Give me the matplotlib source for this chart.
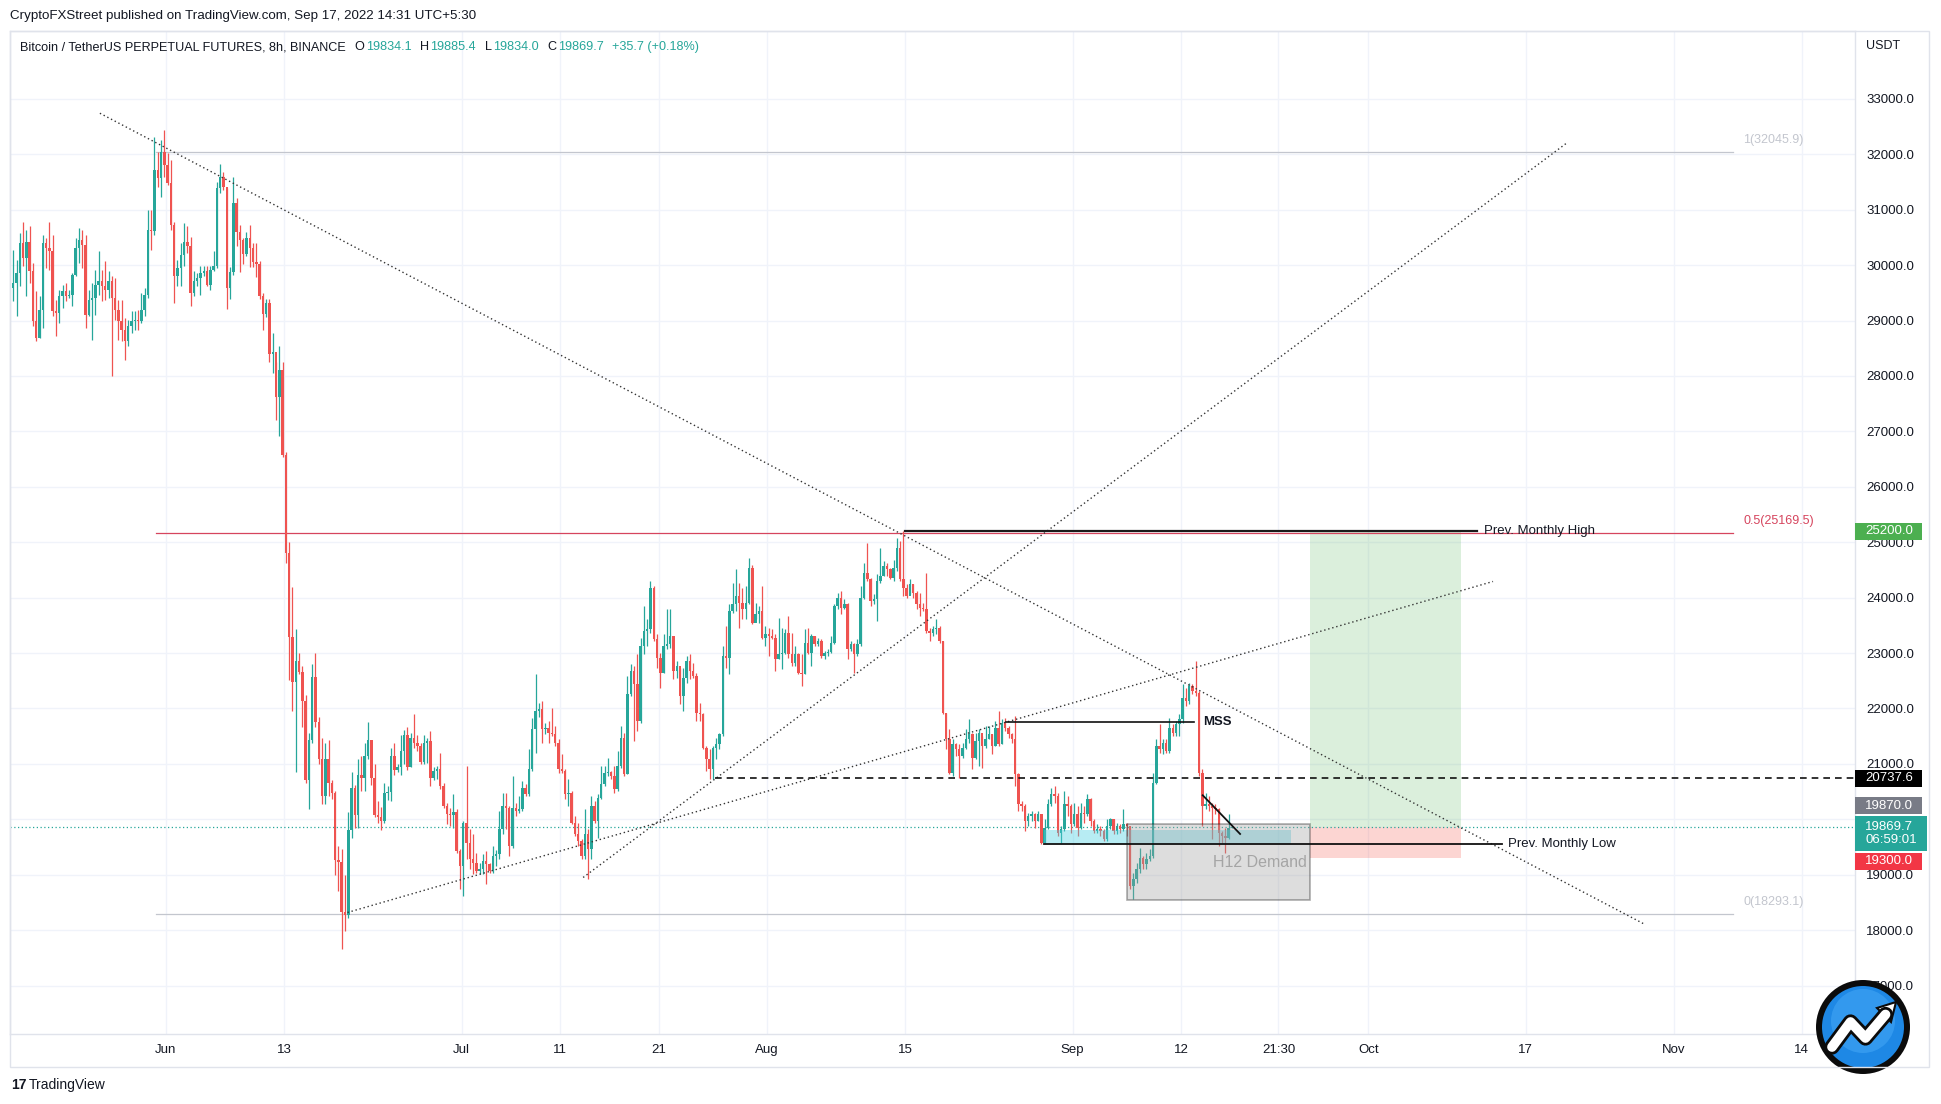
import matplotlib
matplotlib.use("Agg")
import matplotlib.pyplot as plt
import matplotlib.dates as mdates
import matplotlib.patheffects as pe
from matplotlib.patches import Rectangle, Circle, Polygon
from matplotlib.transforms import blended_transform_factory
import numpy as np
import pandas as pd

plt.rcParams['font.family'] = ['Liberation Sans', 'DejaVu Sans']

# ---------------- data (BTCUSDT perp, 8h candles) ----------------
first_candle_time = "2022-05-16 12:00"
first_open = 29586

closes = [
    # May 16 - Jun 6
    29676, 29856, 30397, 30127, 30427, 29886, 28985, 28685, 29195, 30397,
    30307, 30247, 29165, 29135, 29436, 29526, 29436, 29466, 29826, 30307,
    30457, 30367, 29105, 29376, 29406, 29646, 29706, 29616, 29556, 29706,
    29406, 29195, 28985, 28835, 28625, 28895, 28985, 29015, 28985, 29195,
    29466, 30638, 30608, 31720, 31569, 32050, 31810, 31479, 30728, 29796,
    29947, 30187, 30427, 30337, 29496, 29706, 29766, 29856, 29886, 29646,
    29917, 29977, 31400,
    # Jun 6 - Jun 27
    31593, 31402, 29587, 29874, 31115, 30590, 30446, 30208, 30494, 30303,
    30065, 30017, 29444, 29110, 29320, 28393, 28441, 27629, 28107, 26579,
    24812, 23284, 22472, 22854, 22663, 22138, 20706, 21422, 22567, 21756,
    21087, 20419, 21087, 20658, 20467, 19273, 19225, 18318, 18270, 19798,
    20562, 20085, 20801, 20754, 21135, 21422, 20754, 20085, 20037, 19961,
    20467, 20500, 21135, 20897, 20950, 21231, 21517, 20944, 21470, 21374,
    21326, 21040, 21374,
    # Jun 27 - Jul 18
    21413, 20751, 20872, 20902, 20601, 20241, 20090, 20072, 20132, 19429,
    19159, 19940, 19580, 19279, 19219, 19069, 19111, 19249, 19189, 19069,
    19339, 19369, 19820, 20241, 20211, 19520, 20211, 20150, 20193, 20571,
    20451, 20902, 21623, 21953, 21983, 21623, 21653, 21563, 21533, 21382,
    20902, 20872, 20451, 20481, 19940, 19730, 19610, 19339, 19730, 19459,
    20241, 19970, 20391, 20631, 20842, 20854, 20781, 20541, 20962, 21473,
    20812, 22254,
    # Jul 18 - Aug 8
    22675, 22435, 21773, 23126, 23396, 23426, 24178, 23246, 22915, 22645,
    23126, 23156, 23306, 22675, 22765, 22224, 22555, 22855, 22675, 22585,
    21924, 21894, 21293, 21082, 20902, 21293, 21353, 21533, 22946, 22915,
    23757, 23877, 24027, 23907, 23787, 23907, 24538, 23546, 23697, 23757,
    23276, 23336, 23306, 23276, 22885, 22975, 23005, 23366, 22975, 22825,
    22975, 22645, 22615, 23186, 23005, 23306, 23156, 23216, 22945, 23005,
    23017, 23186,
    # Aug 8 - Aug 29
    23847, 23997, 23817, 23877, 23066, 23156, 22975, 23156, 23997, 24448,
    24328, 23937, 23967, 24298, 24388, 24568, 24508, 24358, 24538, 24899,
    24328, 24178, 24028, 24238, 24088, 23877, 23817, 23787, 23396, 23366,
    23426, 23456, 23216, 21924, 21443, 20842, 21353, 21263, 21143, 21293,
    21443, 21533, 21113, 21413, 21563, 21323, 21443, 21533, 21323, 21653,
    21353, 21744, 21653, 21533, 21443, 20812, 20271, 20241, 19971, 20061,
    20091, 19971,
    # Aug 29 - Sep 17
    20091, 19580, 19850, 20271, 20451, 20421, 19760, 19820, 20271, 20241,
    19910, 20091, 19850, 20121, 20091, 20361, 19971, 19790, 19820, 19790,
    19640, 19880, 20001, 19790, 19880, 19820, 19910, 19880, 18799, 18919,
    19099, 19310, 19190, 19280, 19340, 20662, 21323, 21263, 21383, 21233,
    21654, 21563, 21714, 21804, 22194, 22134, 22405, 22315, 22285, 20842,
    20241, 20271, 20241, 20211, 20181, 19760, 19700, 19670, 19834.1, 19869.7,
]

highs = [
    30277, 30097, 30578, 30788, 30638, 30698, 30037, 29526, 29436, 30548,
    30487, 30788, 30548, 29376, 29556, 29646, 29676, 29556, 29856, 30487,
    30668, 30638, 30548, 29556, 29676, 29917, 30247, 29917, 30067, 29886,
    29796, 29766, 29376, 29376, 29045, 29015, 29165, 29165, 29195, 29496,
    29586, 30998, 30998, 32320, 32050, 32260, 32440, 32020, 31900, 30788,
    30097, 30397, 30758, 30698, 30517, 29886, 29856, 29977, 29977, 29977,
    29977, 30247, 31500,
    31831, 31688, 31400, 29969, 31593, 31210, 30733, 30494, 30590, 30733,
    30399, 30399, 30084, 29492, 29396, 29396, 28775, 28250, 28536, 28250,
    26626, 25003, 24191, 23427, 22997, 22759, 22234, 21565, 22807, 22997,
    21852, 21470, 21374, 21422, 20706, 20515, 19512, 19464, 18987, 20133,
    20849, 20610, 21087, 21135, 21374, 21756, 21422, 20992, 20324, 20228,
    20658, 20600, 21278, 21374, 21000, 21517, 21613, 21661, 21565, 21900,
    21517, 21374, 21517,
    21473, 21593, 20950, 20962, 21202, 20650, 20300, 20211, 20451, 20181,
    19459, 19970, 20962, 19820, 19730, 19399, 19219, 19369, 19429, 19219,
    19520, 19450, 20150, 20481, 20481, 20241, 20781, 20301, 20421, 20691,
    20631, 21262, 21833, 22615, 22100, 22134, 21743, 21773, 22014, 21683,
    21443, 21172, 20902, 20721, 20511, 20060, 19940, 19640, 20181, 19820,
    20421, 20331, 20451, 20962, 20962, 21112, 20872, 20962, 21232, 21683,
    21563, 22585,
    22795, 22765, 22975, 23276, 23847, 23606, 24298, 24208, 23336, 23005,
    23336, 23787, 23787, 23306, 22855, 22735, 22735, 22945, 22975, 22825,
    22645, 22104, 21924, 21323, 21263, 21323, 21473, 21563, 23126, 23486,
    23877, 24268, 24508, 24268, 24178, 24208, 24718, 24598, 23907, 23847,
    24208, 23486, 23456, 23426, 23336, 23637, 23456, 23426, 23667, 23366,
    23126, 23005, 22975, 23426, 23456, 23336, 23306, 23276, 23246, 23036,
    23066, 23306,
    23877, 24088, 24118, 23967, 23907, 23216, 23186, 23246, 24208, 24628,
    24989, 24358, 24058, 24418, 24899, 24658, 24628, 24538, 24688, 25079,
    25019, 25199, 24238, 24328, 24238, 24118, 24088, 23907, 24448, 23456,
    23486, 23607, 23486, 23216, 21924, 21623, 21443, 21383, 21353, 21383,
    21623, 21804, 21563, 21563, 21623, 21503, 21684, 21684, 21533, 21774,
    21954, 21804, 21834, 21684, 21563, 21864, 20842, 20331, 20271, 20121,
    20151, 20121,
    20151, 20091, 20001, 20361, 20571, 20601, 20481, 19880, 20511, 20421,
    20271, 20301, 20241, 20301, 20241, 20451, 20391, 20001, 19910, 19880,
    19820, 20001, 20031, 20001, 19940, 19910, 20181, 19940, 19850, 19039,
    19219, 19490, 19340, 19400, 19460, 20842, 21443, 21714, 21443, 21443,
    21834, 21714, 21774, 21894, 22435, 22375, 22465, 22435, 22855, 22315,
    20902, 20481, 20421, 20301, 20271, 20211, 19790, 19850, 20091, 19885.4,
]

lows = [
    29346, 29075, 29616, 29977, 29436, 29676, 28895, 28625, 28685, 28865,
    29947, 29917, 29075, 28715, 28955, 29225, 29346, 29406, 29256, 29796,
    30037, 29947, 28865, 29075, 28655, 29105, 29466, 29346, 29376, 29406,
    27993, 29015, 28655, 28625, 28294, 28534, 28775, 28835, 28835, 28955,
    29075, 29406, 30277, 30548, 31419, 31239, 31599, 31449, 30638, 29316,
    29616, 29616, 29977, 30217, 29256, 29436, 29616, 29466, 29796, 29616,
    29556, 29886, 29947,
    31300, 31354, 29205, 29396, 29826, 30351, 29874, 30017, 30160, 29969,
    29969, 29778, 29396, 28823, 29062, 28250, 28059, 27200, 26913, 26531,
    24621, 22520, 21947, 20849, 22615, 21661, 20658, 20180, 21374, 21661,
    20992, 20276, 20276, 20419, 20371, 18987, 18700, 17650, 17984, 18222,
    19655, 19846, 19846, 20515, 20515, 21087, 20610, 20037, 19941, 19798,
    19941, 20350, 20324, 20801, 20850, 20801, 20992, 20897, 20944, 21278,
    21231, 20992, 20992,
    21022, 20601, 20700, 20721, 20541, 20211, 19910, 19880, 19850, 19399,
    18738, 18618, 19279, 19099, 19009, 19039, 19009, 19009, 18828, 19039,
    19039, 19150, 19279, 19730, 19820, 19339, 19489, 20060, 20120, 20150,
    20421, 20421, 20872, 21202, 21850, 21382, 21533, 21382, 21503, 21322,
    20842, 20842, 20361, 20241, 19910, 19700, 19520, 19279, 19279, 18918,
    19279, 19940, 19670, 20361, 20601, 20781, 20721, 20481, 20511, 20932,
    20781, 20812,
    22224, 21413, 21593, 21743, 22975, 23126, 23366, 23216, 22735, 22374,
    22645, 23066, 23096, 22525, 22555, 22074, 21954, 22465, 22525, 22555,
    21773, 21773, 21263, 20872, 20722, 20722, 21082, 21263, 21503, 22735,
    22615, 23727, 23757, 23456, 23606, 23606, 23877, 23516, 23606, 23546,
    23246, 23126, 22945, 23246, 22675, 22885, 22705, 22975, 22915, 22765,
    22765, 22615, 22405, 22615, 22975, 22765, 23126, 23126, 22915, 22885,
    22945, 23005,
    23156, 23787, 23697, 23787, 22885, 23036, 22645, 22945, 23126, 23967,
    24298, 23847, 23877, 23577, 24268, 24388, 24388, 24328, 24298, 24478,
    24298, 24028, 23997, 24058, 23997, 23787, 23667, 23757, 23366, 23216,
    23306, 23336, 23186, 21894, 21263, 20812, 20782, 21143, 20752, 21113,
    21263, 21383, 20902, 21083, 20962, 20932, 21293, 21443, 21173, 21323,
    21323, 21353, 21593, 21473, 21383, 20602, 20151, 20151, 19790, 19880,
    19971, 19850,
    19971, 19550, 19580, 19820, 20241, 20301, 19700, 19580, 19790, 20061,
    19760, 19880, 19700, 19820, 19940, 20061, 19880, 19760, 19760, 19700,
    19610, 19610, 19820, 19730, 19730, 19760, 19790, 19700, 18739, 18558,
    18859, 19039, 19099, 19099, 19250, 19310, 20632, 21203, 21173, 21203,
    21203, 21503, 21503, 21503, 21744, 22044, 22074, 22255, 22225, 20782,
    19880, 20181, 20151, 19640, 20091, 19520, 19580, 19400, 19640, 19834.0,
]

# axis ticks
tick_times = ["2022-06-01", "2022-06-13", "2022-07-01", "2022-07-11", "2022-07-21",
              "2022-08-01", "2022-08-15", "2022-09-01", "2022-09-12", "2022-09-21 21:30",
              "2022-10-01", "2022-10-17", "2022-11-01", "2022-11-14"]
tick_labels = ["Jun", "13", "Jul", "11", "21", "Aug", "15", "Sep", "12", "21:30",
               "Oct", "17", "Nov", "14"]
price_ticks = list(range(17000, 33001, 1000))
hidden_price_ticks = [20000]   # fully covered by the price tags in the original

# drawings
fib_levels = [32045.9, 25169.5, 18293.1]
fib_names = ["1", "0.5", "0"]
fib_span = ("2022-05-31 00:00", "2022-11-07 00:00")
desc_line = (("2022-05-25 07:00", 32742), ("2022-10-29 00:00", 18110))
steep_line = (("2022-07-13 08:00", 18950), ("2022-10-21 02:00", 32196))
shallow_line = (("2022-06-19 10:00", 18318), ("2022-10-13 16:00", 24292))
monthly_high = 25200.0
monthly_high_span = ("2022-08-15 00:00", "2022-10-12 00:00")
monthly_low = 19555.0
monthly_low_span = ("2022-08-29 02:00", "2022-10-14 14:00")
mss_level = 21748.0
mss_span = ("2022-08-25 06:00", "2022-09-13 07:00")
dashed_level = 20737.6
dashed_start = "2022-07-26 17:00"
last_price = 19869.7
tp_level, sl_level = 25200.0, 19300.0
trade_span = ("2022-09-25 02:00", "2022-10-10 10:00")
demand_zone = ("2022-09-06 12:00", "2022-09-25 02:00", 18540, 19922)
cyan_zone = ("2022-08-29 02:00", "2022-09-23 05:00", 19555, 19805)
small_trend = (("2022-09-14 05:00", 20433), ("2022-09-18 00:00", 19735))
last_ohlc = (19834.1, 19885.4, 19834.0, 19869.7)
change, change_pct = 35.7, 0.18

# ---------------- figure ----------------
GREEN = '#26a69a'
RED = '#ef5350'
TXT = '#131722'
W, H = 1941, 1104
fig = plt.figure(figsize=(W / 100, H / 100), dpi=100)
fig.patch.set_facecolor('white')


def fx(px):
    return px / W


def fy(py):
    return 1 - py / H


AX_L, AX_R, AX_T, AX_B = 10, 1855, 31, 1034
ax = fig.add_axes([fx(AX_L), fy(AX_B), (AX_R - AX_L) / W, (AX_B - AX_T) / H])


def D(s):
    return mdates.date2num(pd.Timestamp(s).to_pydatetime())


ymin, ymax = 16125, 34226
x0 = D("2022-06-01") - 15.83
x1 = D("2022-06-01") + 171.4
ax.set_xlim(x0, x1)
ax.set_ylim(ymin, ymax)
px_per_price = (AX_B - AX_T) / (ymax - ymin)

# candles
times = pd.date_range(first_candle_time, periods=len(closes), freq="8h")
t = mdates.date2num(times.to_pydatetime())
c = np.array(closes, dtype=float)
h = np.array(highs, dtype=float)
lo = np.array(lows, dtype=float)
o = np.concatenate([[first_open], c[:-1]])
cols = np.where(c >= o, GREEN, RED)
ax.vlines(t, lo, h, colors=cols, lw=0.9, zorder=3)
ax.bar(t, np.maximum(np.abs(c - o), 14), bottom=np.minimum(o, c), width=0.25,
       color=cols, lw=0, zorder=4)

# grid / axes
ax.set_xticks([D(s) for s in tick_times])
ax.set_xticklabels(tick_labels)
ax.set_yticks(price_ticks)
ax.set_yticklabels(["" if v in hidden_price_ticks else f"{v:.1f}" for v in price_ticks])
ax.yaxis.tick_right()
ax.tick_params(axis='both', length=0, labelsize=9.5, labelcolor=TXT)
ax.tick_params(axis='y', pad=8)
ax.tick_params(axis='x', pad=7)
ax.grid(True, color='#f0f3fa', lw=1.0, zorder=0)
ax.set_axisbelow(True)
for sp in ax.spines.values():
    sp.set_color('#e0e3eb')
    sp.set_linewidth(1.0)

# outer frame of the chart widget
fig.patches.append(Rectangle((fx(10), fy(1067)), (1929 - 10) / W, (1067 - 31) / H,
                             transform=fig.transFigure, fill=False, ec='#e0e3eb', lw=1.0))

# fib levels
for lvl, nm in zip(fib_levels, fib_names):
    colr = '#d6455e' if nm == "0.5" else '#c3c6ce'
    ax.plot([D(fib_span[0]), D(fib_span[1])], [lvl, lvl], color=colr, lw=0.9, zorder=2)
    ax.text(D("2022-11-08 01:00"), lvl + 6 / px_per_price, f"{nm}({lvl})", color=colr,
            fontsize=9, va='bottom', ha='left', zorder=6)

# trend lines (dotted)
for (a, b) in (desc_line, steep_line, shallow_line):
    ax.plot([D(a[0]), D(b[0])], [a[1], b[1]], color='#333333', lw=1.0,
            linestyle=(0, (1, 2.0)), zorder=5)

# zones
ax.add_patch(Rectangle((D(trade_span[0]), last_price), D(trade_span[1]) - D(trade_span[0]),
                       tp_level - last_price, fc='#4caf50', alpha=0.2, lw=0, zorder=1))
ax.add_patch(Rectangle((D(trade_span[0]), sl_level), D(trade_span[1]) - D(trade_span[0]),
                       last_price - sl_level, fc='#f44336', alpha=0.22, lw=0, zorder=1))
ax.add_patch(Rectangle((D(cyan_zone[0]), cyan_zone[2]), D(cyan_zone[1]) - D(cyan_zone[0]),
                       cyan_zone[3] - cyan_zone[2], fc='#4dd0e1', alpha=0.4, lw=0, zorder=5))
ax.add_patch(Rectangle((D(demand_zone[0]), demand_zone[2]), D(demand_zone[1]) - D(demand_zone[0]),
                       demand_zone[3] - demand_zone[2], fc='#9e9e9e', alpha=0.35,
                       ec='#111111', lw=1.2, zorder=5))
ax.text(D("2022-09-20 00:00"), 19225, "H12 Demand", color='#a5a5a5', fontsize=11.5,
        ha='center', va='center', zorder=6)

# horizontal levels
ax.plot([D(monthly_high_span[0]), D(monthly_high_span[1])], [monthly_high] * 2,
        color='#1a1a1a', lw=1.6, zorder=6)
ax.text(D("2022-10-12 17:00"), monthly_high, "Prev. Monthly High", fontsize=9.5,
        color=TXT, va='center', ha='left', zorder=6)
ax.plot([D(monthly_low_span[0]), D(monthly_low_span[1])], [monthly_low] * 2,
        color='#111111', lw=1.3, zorder=6)
ax.text(D("2022-10-15 05:00"), monthly_low, "Prev. Monthly Low", fontsize=9.5,
        color=TXT, va='center', ha='left', zorder=6)
ax.plot([D(mss_span[0]), D(mss_span[1])], [mss_level] * 2, color='#111111', lw=1.2, zorder=6)
ax.text(D("2022-09-14 06:00"), mss_level, "MSS", fontsize=9.5, fontweight='bold',
        color=TXT, va='center', ha='left', zorder=6)
ax.plot([D(dashed_start), x1], [dashed_level] * 2, color='#111111', lw=1.2,
        linestyle=(0, (4, 3)), zorder=6)
ax.plot([x0, x1], [last_price] * 2, color=GREEN, lw=0.9, linestyle=(0, (1, 2)), zorder=2)
ax.plot([D(small_trend[0][0]), D(small_trend[1][0])], [small_trend[0][1], small_trend[1][1]],
        color='#111111', lw=1.3, zorder=6)

# price tags on the axis
blend = blended_transform_factory(ax.transAxes, ax.transData)
axw = AX_R - AX_L


def tag(text, ypos, color, hpx=17, wpx=67):
    hh = hpx / px_per_price
    ax.add_patch(Rectangle((1.0, ypos - hh / 2), wpx / axw, hh, transform=blend,
                           fc=color, ec='none', clip_on=False, zorder=20))
    ax.text(1.0 + 10 / axw, ypos, text, transform=blend, color='white', fontsize=9.5,
            ha='left', va='center', clip_on=False, zorder=21, linespacing=1.05)


tag(f"{tp_level:.1f}", tp_level, '#4caf50')
tag(f"{dashed_level:.1f}", dashed_level, '#000000')
tag("19870.0", 20240, '#787b86')
tag(f"{last_price:.1f}\n06:59:01", 19745, GREEN, hpx=35, wpx=72)
tag(f"{sl_level:.1f}", 19245, '#f23645')

fig.text(fx(1866), fy(46), "USDT", fontsize=9, color=TXT, va='center', ha='left')

# header
fig.text(fx(10), fy(16), "CryptoFXStreet published on TradingView.com, Sep 17, 2022 14:31 UTC+5:30",
         fontsize=9.6, color=TXT, va='center', ha='left')

renderer = fig.canvas.get_renderer()
fy_leg = fy(47)


def chain(xpx, s, color, gap):
    tx = fig.text(fx(xpx), fy_leg, s, fontsize=9.1, color=color, va='center', ha='left', zorder=30)
    bb = tx.get_window_extent(renderer=renderer)
    return bb.x1 + gap


xp = chain(20, "Bitcoin / TetherUS PERPETUAL FUTURES, 8h, BINANCE", TXT, 9)
for lab, val in zip(("O", "H", "L", "C"), last_ohlc):
    xp = chain(xp, lab, TXT, 1)
    xp = chain(xp, f"{val:.1f}", GREEN, 9)
chain(xp, f"+{change} (+{change_pct:.2f}%)", GREEN, 0)

# bottom-left TradingView mark
fig.text(fx(11), fy(1085), "17", fontsize=10, fontweight='heavy', color=TXT, va='center', ha='left')
fig.text(fx(29), fy(1085), "TradingView", fontsize=10, color=TXT, va='center', ha='left')

# round logo bottom right
lg = fig.add_axes([fx(1863 - 50), fy(1027 + 50), 100 / W, 100 / H])
lg.set_xlim(-1, 1)
lg.set_ylim(-1, 1)
lg.axis('off')
lg.add_patch(Circle((0, 0), 0.94, fc='#0b0b0b', ec='none'))
lg.add_patch(Circle((0, 0), 0.82, fc='#1e88e5', ec='none'))
lg.add_patch(Circle((0, 0.12), 0.64, fc='#42a5f5', ec='none', alpha=0.6))
zig_x = [-0.62, -0.25, 0.05, 0.45]
zig_y = [-0.40, 0.10, -0.22, 0.25]
lg.plot(zig_x, zig_y, color='white', lw=7, solid_capstyle='round', solid_joinstyle='round',
        path_effects=[pe.Stroke(linewidth=11, foreground='#0b0b0b'), pe.Normal()])
lg.add_patch(Polygon([[0.28, 0.38], [0.66, 0.50], [0.56, 0.10]], closed=True,
                     fc='white', ec='#0b0b0b', lw=1.5))

fig.savefig("out.png", dpi=100, facecolor='white')
